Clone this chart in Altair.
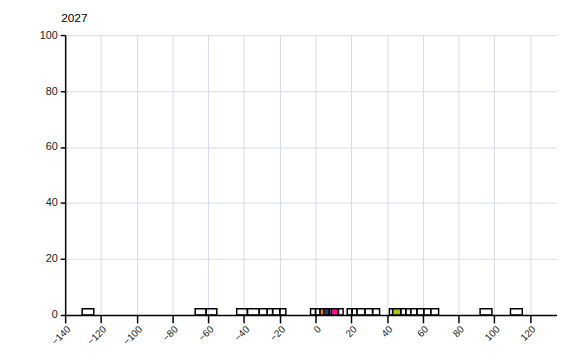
import altair as alt
import pandas as pd

# Histogram-like segments (bin start, bin end, count, fill colour)
seg_start = [-130.5, -67.3, -61.2, -44.1, -38.1, -31.5, -27.0, -24.0, -20.0,
             -2.8, 0.0, 2.5, 4.6, 7.6, 8.8, 12.8, 17.7, 20.4, 23.1, 27.6, 31.9,
             41.3, 43.1, 47.7, 50.5, 53.2, 56.7, 60.5, 64.4,
             92.0, 109.0]
seg_end = [-124.0, -61.2, -55.2, -38.1, -31.5, -27.0, -24.0, -20.0, -16.6,
           0.0, 2.5, 4.6, 7.6, 8.8, 12.8, 15.4, 20.4, 23.1, 27.6, 31.9, 35.8,
           43.1, 47.7, 50.5, 53.2, 56.7, 60.5, 64.4, 68.8,
           98.6, 115.6]
seg_count = [2.2] * len(seg_start)
seg_fill = ["transparent"] * len(seg_start)
seg_fill[11] = "#ff7f0e"
seg_fill[12] = "#1a3fa0"
seg_fill[14] = "#ff1493"
seg_fill[22] = "#a8cc00"

x_ticks = list(range(-140, 141, 20))
y_ticks = [0, 20, 40, 60, 80, 100]

df = pd.DataFrame({"start": seg_start, "end": seg_end,
                   "count": seg_count, "fill": seg_fill})

FONT = "Liberation Sans"

chart = alt.Chart(df).mark_rect(stroke="black", strokeWidth=1.5).encode(
    x=alt.X("start:Q",
            scale=alt.Scale(domain=[-140, 135], nice=False, zero=False),
            axis=alt.Axis(values=x_ticks, title=None, labelAngle=-45,
                          tickSize=8, labelPadding=1, labelFontSize=10,
                          labelColor="#222", domainColor="black", tickColor="black",
                          gridColor="#d8d8ee", labelFont=FONT, labelOverlap=False)),
    x2="end:Q",
    y=alt.Y("count:Q",
            scale=alt.Scale(domain=[0, 100], nice=False),
            axis=alt.Axis(values=y_ticks, title=None, tickSize=5, labelPadding=3,
                          labelFontSize=11, labelColor="#222", domainColor="black",
                          tickColor="black", gridColor="#d8d8ee", labelFont=FONT)),
    y2=alt.datum(0),
    fill=alt.Fill("fill:N", scale=None),
).properties(
    width=499,
    height=284,
    title=alt.TitleParams("2027", anchor="start", frame="group", fontSize=12,
                          fontWeight="normal", font=FONT, color="black",
                          offset=4, dx=-4),
    autosize=alt.AutoSizeParams(type="none"),
    padding={"left": 58, "top": 25, "right": 0, "bottom": 29},
).configure_view(stroke=None).configure_axis(gridWidth=1, domainWidth=1.5, tickWidth=1.5)

chart.save("out.html", embed_options={"renderer": "svg", "actions": False})
